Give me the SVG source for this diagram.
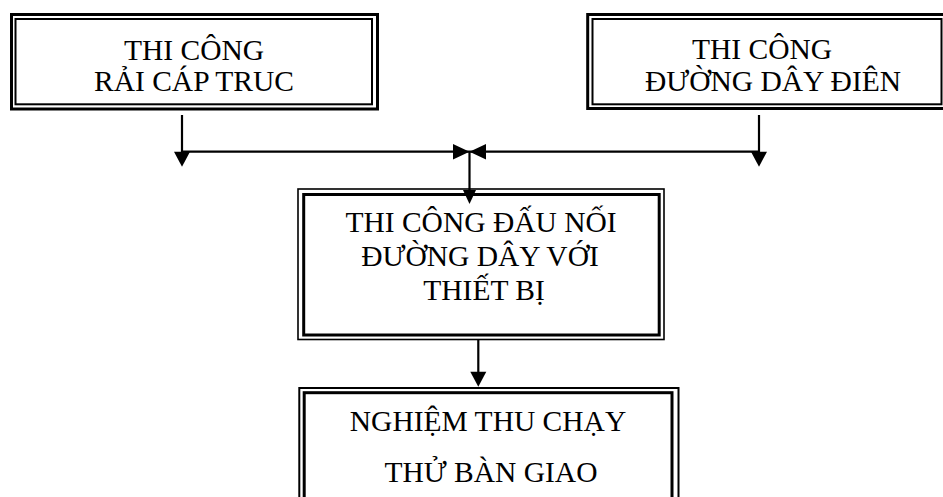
<svg xmlns="http://www.w3.org/2000/svg" width="943" height="497" viewBox="0 0 943 497">
<style>
.t{font-family:"Liberation Serif","Times New Roman",serif;font-size:29.5px;fill:#000;text-anchor:middle}
.b{fill:none;stroke:#000}
.c{stroke:#000;stroke-width:2.2;fill:none}
.h{fill:#000;stroke:none}
</style>
<rect width="943" height="497" fill="#fff"/>
<g id="node-rai-cap">
<rect class="b" x="11.5" y="14.5" width="366" height="94.5" stroke-width="3"/>
<rect class="b" x="15.5" y="19" width="356.5" height="85.3" stroke-width="2"/>
<text class="t" x="194" y="60">THI CÔNG</text>
<text class="t" x="194" y="91">RẢI CÁP TRUC</text>
</g>
<g id="node-duong-day">
<rect class="b" x="587.7" y="14.5" width="360" height="94" stroke-width="3"/>
<rect class="b" x="592.5" y="19" width="349" height="85.3" stroke-width="2"/>
<text class="t" x="762" y="59">THI CÔNG</text>
<text class="t" x="773" y="91">ĐƯỜNG DÂY ĐIÊN</text>
</g>
<g id="node-dau-noi">
<rect class="b" x="298" y="189" width="366" height="150.5" stroke-width="1.6"/>
<rect class="b" x="303.7" y="194.5" width="355.5" height="140.5" stroke-width="3"/>
<text class="t" x="481" y="232">THI CÔNG ĐẤU NỐI</text>
<text class="t" x="480" y="266">ĐƯỜNG DÂY VỚI</text>
<text class="t" x="484" y="300">THIẾT BỊ</text>
</g>
<g id="node-nghiem-thu">
<rect class="b" x="299.3" y="388" width="379.2" height="130" stroke-width="2"/>
<rect class="b" x="304.2" y="392.7" width="367.8" height="130" stroke-width="3"/>
<text class="t" x="488" y="431">NGHIỆM THU CHẠY</text>
<text class="t" x="491" y="482">THỬ BÀN GIAO</text>
</g>
<g id="connectors">
<line class="c" x1="182" y1="115" x2="182" y2="153"/>
<polygon class="h" points="174,151.7 190,151.7 182,166.7"/>
<line class="c" x1="182" y1="151.7" x2="759" y2="151.7"/>
<line class="c" x1="759" y1="115" x2="759" y2="153"/>
<polygon class="h" points="751,151.7 767,151.7 759,166.7"/>
<polygon class="h" points="453,144 453,159.5 469.5,151.7"/>
<polygon class="h" points="486,144 486,159.5 469.5,151.7"/>
<line class="c" x1="469.5" y1="151.7" x2="469.5" y2="191"/>
<polygon class="h" points="463,190 476,190 469.5,204"/>
<line class="c" x1="478.3" y1="340" x2="478.3" y2="373"/>
<polygon class="h" points="470.3,371.7 486.3,371.7 478.3,386.7"/>
</g>
</svg>
